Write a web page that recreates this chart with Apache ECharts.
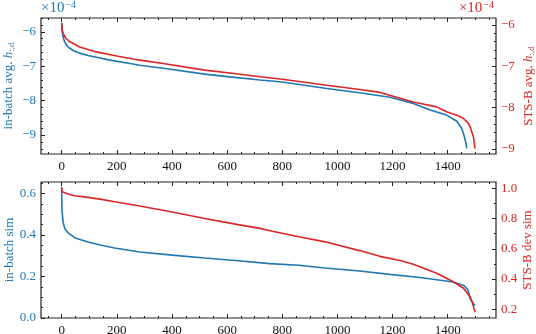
<!DOCTYPE html>
<html>
<head>
<meta charset="utf-8">
<script src="https://cdn.jsdelivr.net/npm/echarts@6/dist/echarts.min.js"></script>
<style>
  html, body { margin: 0; padding: 0; background: #fff; }
  #chart { width: 536px; height: 334px; }
</style>
</head>
<body>
<div id="chart"></div>
<script>
// values, x = index, y = value (top plot in units of 1e-4)
const topBatch = [[0,-5.74],[1,-5.95],[3,-6.05],[5,-6.14],[10,-6.28],[20,-6.42],[29,-6.48],[45,-6.56],[65,-6.62],[95,-6.69],[126,-6.74],[180,-6.83],[247,-6.92],[283,-6.97],[368,-7.06],[519,-7.23],[610,-7.31],[719,-7.40],[800,-7.46],[955,-7.64],[1080,-7.77],[1190,-7.90],[1275,-8.08],[1336,-8.27],[1396,-8.42],[1433,-8.60],[1450,-8.80],[1457,-8.95],[1465,-9.20],[1469,-9.39]]
const topSts = [[0,-5.95],[2,-6.12],[5,-6.20],[15,-6.32],[29,-6.40],[65,-6.53],[126,-6.65],[200,-6.75],[283,-6.85],[368,-6.93],[519,-7.09],[610,-7.16],[719,-7.25],[800,-7.31],[955,-7.45],[1080,-7.56],[1154,-7.63],[1275,-7.86],[1360,-7.98],[1396,-8.10],[1440,-8.20],[1457,-8.26],[1475,-8.38],[1481,-8.46],[1493,-8.70],[1499,-8.99]]
const botBatch = [[0,0.629],[1,0.52],[5,0.463],[11,0.431],[23,0.41],[47,0.387],[95,0.366],[144,0.35],[192,0.337],[283,0.318],[400,0.303],[519,0.289],[640,0.276],[755,0.262],[860,0.254],[955,0.241],[1080,0.226],[1190,0.210],[1300,0.195],[1420,0.173],[1460,0.155],[1474,0.133],[1481,0.094],[1490,0.075],[1499,0.06]]
const botSts = [[0,1.007],[2,0.978],[5,0.971],[23,0.962],[47,0.951],[95,0.94],[144,0.927],[192,0.911],[283,0.883],[400,0.843],[519,0.80],[640,0.76],[719,0.735],[755,0.719],[860,0.68],[955,0.646],[1080,0.588],[1154,0.55],[1227,0.522],[1275,0.498],[1360,0.438],[1420,0.382],[1457,0.339],[1481,0.283],[1490,0.24],[1499,0.18]]

const xMajor = [0, 200, 400, 600, 800, 1000, 1200, 1400]
const xMinor = [-50, 50, 100, 150, 250, 300, 350, 450, 500, 550, 650, 700, 750, 850, 900, 950, 1050, 1100, 1150, 1250, 1300, 1350, 1450, 1500, 1550]
const topLeftMajor = [-9, -8, -7, -6]
const topRightMajor = [-9, -8, -7, -6]
const botLeftMajor = [0, 0.2, 0.4, 0.6]
const botRightMajor = [0.2, 0.4, 0.6, 0.8, 1.0]

const BLUE = '#1f77b4'
const RED = '#d62728'
const FONT = 'Liberation Serif'

function steps(a, b, s, skip) {
  const out = []
  for (let v = a; v <= b + 1e-9; v += s) {
    const r = Math.round(v * 1000) / 1000
    if (!skip.some(m => Math.abs(m - r) < 1e-6)) out.push(r)
  }
  return out
}
function minus(v) {
  return v < 0 ? '\u2212' + Math.abs(v) : String(v)
}
const noLine = { show: false, onZero: false }
const tick = (vals, len) => ({ show: true, inside: true, length: len, customValues: vals, lineStyle: { color: '#222', width: 1 } })

function xAxes(grid) {
  const base = { type: 'value', gridIndex: grid, min: -75, max: 1575, splitLine: { show: false }, axisLine: noLine }
  return [
    Object.assign({}, base, {
      position: 'bottom',
      axisTick: tick(xMajor, 4),
      axisLabel: { customValues: xMajor, margin: 6, color: '#111', fontFamily: FONT, fontSize: 13, formatter: v => String(v) },
    }),
    Object.assign({}, base, { position: 'bottom', axisTick: tick(xMinor, 2), axisLabel: { show: false } }),
    Object.assign({}, base, { position: 'top', axisTick: tick(xMajor, 4), axisLabel: { show: false } }),
    Object.assign({}, base, { position: 'top', axisTick: tick(xMinor, 2), axisLabel: { show: false } }),
  ]
}

function yAxes(grid, pos, min, max, major, minor, color, fmt, name) {
  const base = { type: 'value', gridIndex: grid, position: pos, min: min, max: max, splitLine: { show: false }, axisLine: noLine }
  return [
    Object.assign({}, base, {
      axisTick: tick(major, 4),
      axisLabel: { customValues: major, margin: 5, color: color, fontFamily: FONT, fontSize: 13, formatter: fmt },
      name: name,
      nameLocation: 'middle',
      nameRotate: 90,
      nameMoveOverlap: false,
      nameGap: pos === 'left' ? 25 : 25,
      nameTextStyle: {
        color: color, fontFamily: FONT, fontSize: 13,
        rich: {
          i: { fontFamily: FONT, fontStyle: 'italic', fontSize: 13, color: color },
          s: { fontFamily: FONT, fontSize: 9, color: color, padding: [6, 0, 0, 0] },
        },
      },
    }),
    Object.assign({}, base, { axisTick: tick(minor, 2), axisLabel: { show: false } }),
  ]
}

const chart = echarts.init(document.getElementById('chart'))

const grids = [
  { left: 41, right: 40, top: 18, height: 136, show: true, borderColor: '#222', borderWidth: 1.2, containLabel: false, outerBoundsMode: 'none' },
  { left: 41, right: 40, top: 182, height: 136, show: true, borderColor: '#222', borderWidth: 1.2, containLabel: false, outerBoundsMode: 'none' },
]

const xAxis = xAxes(0).concat(xAxes(1)) // 0..3 top grid, 4..7 bottom grid
const yAxis = [].concat(
  yAxes(0, 'left', -9.55, -5.6, topLeftMajor, steps(-9.4, -5.6, 0.2, topLeftMajor), BLUE, minus, 'in-batch avg. {i|h}{s|:,d}'),
  yAxes(0, 'right', -9.12, -5.83, topRightMajor, steps(-9.0, -5.83, 0.2, topRightMajor), RED, minus, 'STS-B avg. {i|h}{s|:,d}'),
  yAxes(1, 'left', 0, 0.655, botLeftMajor, steps(0.05, 0.65, 0.05, botLeftMajor), BLUE, v => v.toFixed(1), 'in-batch sim'),
  yAxes(1, 'right', 0.142, 1.042, botRightMajor, steps(0.2, 1.04, 0.1, botRightMajor), RED, v => v.toFixed(1), 'STS-B dev sim'),
)

function line(data, xi, yi, color) {
  return {
    type: 'line', data: data, xAxisIndex: xi, yAxisIndex: yi,
    showSymbol: false, symbol: 'none', animation: false,
    lineStyle: { color: color, width: 1.6 },
  }
}

// matplotlib style offset text "×10^-4" above each y axis
function offsetText(pos, color) {
  return Object.assign({
    text: '×10{s|\u22124}', top: 0, padding: 0,
    textStyle: {
      color: color, fontSize: 15, fontWeight: 'normal', fontFamily: FONT,
      rich: { s: { fontSize: 10, color: color, fontFamily: FONT, verticalAlign: 'top', padding: [0, 0, 6, 1] } },
    },
  }, pos)
}

chart.setOption({
  animation: false,
  title: [offsetText({ left: 41 }, BLUE), offsetText({ right: 42 }, RED)],
  grid: grids,
  xAxis: xAxis,
  yAxis: yAxis,
  series: [
    line(topBatch, 0, 0, BLUE),
    line(topSts, 0, 2, RED),
    line(botBatch, 4, 4, BLUE),
    line(botSts, 4, 6, RED),
  ],
})
</script>
</body>
</html>
